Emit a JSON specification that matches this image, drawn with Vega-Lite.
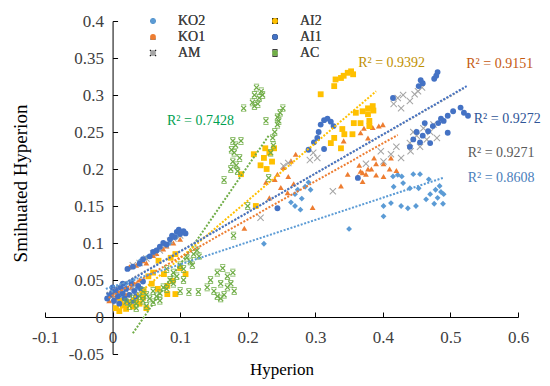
{
"$schema":"https://vega.github.io/schema/vega-lite/v6.json",
"width":473,"height":333,
"autosize":{"type":"none"},
"padding":{"left":45,"top":21,"right":32,"bottom":32},
"config":{"view":{"stroke":null},"font":"Liberation Serif",
 "axis":{"labelOverlap":false,"labelBound":false,"labelFlush":false,"grid":false,"domainColor":"#000","tickColor":"#000","tickSize":-5,"labelFontSize":17,"labelFont":"Liberation Serif","labelColor":"#404040","titleFont":"Liberation Serif","titleFontWeight":"normal","titleColor":"#000"},
 "axisX":{"labelPadding":17},
 "axisY":{"labelPadding":14},
 "legend":{"orient":"none","legendX":101,"legendY":-7,"columns":2,"columnPadding":62,"rowPadding":2,"labelFont":"Liberation Serif","labelFontSize":14,"labelColor":"#404040","symbolSize":34,"labelOffset":18,"padding":0,"symbolStrokeWidth":0}},
"datasets":{
"pts":[
{"s":"KO2","x":-0.005,"y":0.03},{"s":"KO2","x":0.0,"y":0.036},{"s":"KO2","x":0.008,"y":0.04},{"s":"KO2","x":0.015,"y":0.028},{"s":"KO2","x":0.02,"y":0.045},{"s":"KO2","x":0.03,"y":0.05},{"s":"KO2","x":0.035,"y":0.038},
{"s":"KO2","x":0.025,"y":0.066},{"s":"KO2","x":0.04,"y":0.075},{"s":"KO2","x":0.05,"y":0.08},{"s":"KO2","x":0.06,"y":0.086},{"s":"KO2","x":0.07,"y":0.092},{"s":"KO2","x":0.085,"y":0.1},{"s":"KO2","x":0.095,"y":0.108},
{"s":"KO2","x":0.224,"y":0.099},{"s":"KO2","x":0.264,"y":0.155},{"s":"KO2","x":0.27,"y":0.166},{"s":"KO2","x":0.274,"y":0.172},{"s":"KO2","x":0.28,"y":0.16},{"s":"KO2","x":0.285,"y":0.176},{"s":"KO2","x":0.29,"y":0.182},{"s":"KO2","x":0.293,"y":0.172},{"s":"KO2","x":0.27,"y":0.15},{"s":"KO2","x":0.278,"y":0.145},{"s":"KO2","x":0.35,"y":0.119},
{"s":"KO2","x":0.401,"y":0.136},{"s":"KO2","x":0.401,"y":0.15},{"s":"KO2","x":0.412,"y":0.154},{"s":"KO2","x":0.416,"y":0.176},{"s":"KO2","x":0.427,"y":0.15},{"s":"KO2","x":0.43,"y":0.181},{"s":"KO2","x":0.437,"y":0.147},{"s":"KO2","x":0.44,"y":0.174},{"s":"KO2","x":0.449,"y":0.15},{"s":"KO2","x":0.453,"y":0.174},{"s":"KO2","x":0.464,"y":0.159},{"s":"KO2","x":0.468,"y":0.186},{"s":"KO2","x":0.476,"y":0.153},{"s":"KO2","x":0.481,"y":0.161},{"s":"KO2","x":0.486,"y":0.169},{"s":"KO2","x":0.489,"y":0.153},{"s":"KO2","x":0.49,"y":0.166},{"s":"KO2","x":0.415,"y":0.19},{"s":"KO2","x":0.422,"y":0.192},{"s":"KO2","x":0.428,"y":0.19},{"s":"KO2","x":0.445,"y":0.193},{"s":"KO2","x":0.455,"y":0.193},{"s":"KO2","x":0.478,"y":0.172},{"s":"KO2","x":0.484,"y":0.177},{"s":"KO2","x":0.47,"y":0.166},
{"s":"KO1","x":-0.005,"y":0.022},{"s":"KO1","x":0.0,"y":0.03},{"s":"KO1","x":0.005,"y":0.026},{"s":"KO1","x":0.012,"y":0.035},{"s":"KO1","x":0.02,"y":0.03},{"s":"KO1","x":0.028,"y":0.04},{"s":"KO1","x":0.035,"y":0.045},{"s":"KO1","x":0.04,"y":0.05},
{"s":"KO1","x":0.025,"y":0.068},{"s":"KO1","x":0.035,"y":0.07},{"s":"KO1","x":0.045,"y":0.076},{"s":"KO1","x":0.05,"y":0.073},{"s":"KO1","x":0.06,"y":0.083},{"s":"KO1","x":0.065,"y":0.086},{"s":"KO1","x":0.075,"y":0.092},{"s":"KO1","x":0.08,"y":0.096},{"s":"KO1","x":0.09,"y":0.1},{"s":"KO1","x":0.1,"y":0.105},
{"s":"KO1","x":0.195,"y":0.12},{"s":"KO1","x":0.227,"y":0.182},{"s":"KO1","x":0.244,"y":0.193},{"s":"KO1","x":0.253,"y":0.202},{"s":"KO1","x":0.264,"y":0.211},{"s":"KO1","x":0.271,"y":0.22},{"s":"KO1","x":0.249,"y":0.175},{"s":"KO1","x":0.259,"y":0.168},{"s":"KO1","x":0.268,"y":0.18},{"s":"KO1","x":0.232,"y":0.161},{"s":"KO1","x":0.24,"y":0.186},{"s":"KO1","x":0.26,"y":0.19},{"s":"KO1","x":0.296,"y":0.148},{"s":"KO1","x":0.338,"y":0.177},{"s":"KO1","x":0.348,"y":0.193},{"s":"KO1","x":0.365,"y":0.205},{"s":"KO1","x":0.37,"y":0.195},{"s":"KO1","x":0.378,"y":0.2},{"s":"KO1","x":0.39,"y":0.192},
{"s":"KO1","x":0.342,"y":0.238},{"s":"KO1","x":0.367,"y":0.249},{"s":"KO1","x":0.372,"y":0.255},{"s":"KO1","x":0.378,"y":0.242},{"s":"KO1","x":0.385,"y":0.256},{"s":"KO1","x":0.394,"y":0.258},{"s":"KO1","x":0.4,"y":0.26},
{"s":"KO1","x":0.363,"y":0.19},{"s":"KO1","x":0.367,"y":0.197},{"s":"KO1","x":0.37,"y":0.183},{"s":"KO1","x":0.375,"y":0.193},{"s":"KO1","x":0.383,"y":0.2},{"s":"KO1","x":0.387,"y":0.215},{"s":"KO1","x":0.39,"y":0.207},{"s":"KO1","x":0.401,"y":0.207},{"s":"KO1","x":0.401,"y":0.19},{"s":"KO1","x":0.41,"y":0.2},{"s":"KO1","x":0.412,"y":0.215},{"s":"KO1","x":0.42,"y":0.198},
{"s":"AM","x":0.0,"y":0.028},{"s":"AM","x":0.005,"y":0.02},{"s":"AM","x":0.01,"y":0.033},{"s":"AM","x":0.02,"y":0.036},{"s":"AM","x":0.03,"y":0.04},{"s":"AM","x":0.04,"y":0.03},
{"s":"AM","x":0.03,"y":0.07},{"s":"AM","x":0.04,"y":0.073},{"s":"AM","x":0.05,"y":0.079},{"s":"AM","x":0.06,"y":0.086},{"s":"AM","x":0.07,"y":0.09},{"s":"AM","x":0.078,"y":0.097},{"s":"AM","x":0.085,"y":0.103},{"s":"AM","x":0.09,"y":0.106},{"s":"AM","x":0.1,"y":0.11},
{"s":"AM","x":0.219,"y":0.134},{"s":"AM","x":0.253,"y":0.204},{"s":"AM","x":0.26,"y":0.208},{"s":"AM","x":0.292,"y":0.212},{"s":"AM","x":0.297,"y":0.222},{"s":"AM","x":0.303,"y":0.215},{"s":"AM","x":0.326,"y":0.17},{"s":"AM","x":0.375,"y":0.207},
{"s":"AM","x":0.397,"y":0.224},{"s":"AM","x":0.401,"y":0.21},{"s":"AM","x":0.412,"y":0.22},{"s":"AM","x":0.427,"y":0.215},{"s":"AM","x":0.441,"y":0.224},{"s":"AM","x":0.42,"y":0.23},
{"s":"AM","x":0.416,"y":0.288},{"s":"AM","x":0.422,"y":0.296},{"s":"AM","x":0.43,"y":0.3},{"s":"AM","x":0.44,"y":0.292},{"s":"AM","x":0.447,"y":0.301},{"s":"AM","x":0.452,"y":0.305},{"s":"AM","x":0.458,"y":0.31},{"s":"AM","x":0.427,"y":0.282},
{"s":"AM","x":0.44,"y":0.235},{"s":"AM","x":0.45,"y":0.245},{"s":"AM","x":0.455,"y":0.23},{"s":"AM","x":0.46,"y":0.255},{"s":"AM","x":0.465,"y":0.24},{"s":"AM","x":0.47,"y":0.25},{"s":"AM","x":0.475,"y":0.26},{"s":"AM","x":0.48,"y":0.242},{"s":"AM","x":0.445,"y":0.25},
{"s":"AI2","x":0.005,"y":0.012},{"s":"AI2","x":0.01,"y":0.008},{"s":"AI2","x":0.015,"y":0.016},{"s":"AI2","x":0.02,"y":0.011},{"s":"AI2","x":0.025,"y":0.02},{"s":"AI2","x":0.03,"y":0.014},{"s":"AI2","x":0.035,"y":0.022},{"s":"AI2","x":0.04,"y":0.018},{"s":"AI2","x":0.045,"y":0.026},{"s":"AI2","x":0.012,"y":0.022},{"s":"AI2","x":0.05,"y":0.012},
{"s":"AI2","x":0.046,"y":0.035},{"s":"AI2","x":0.053,"y":0.055},{"s":"AI2","x":0.058,"y":0.045},{"s":"AI2","x":0.067,"y":0.038},{"s":"AI2","x":0.068,"y":0.076},{"s":"AI2","x":0.076,"y":0.058},{"s":"AI2","x":0.081,"y":0.042},{"s":"AI2","x":0.081,"y":0.031},{"s":"AI2","x":0.086,"y":0.08},{"s":"AI2","x":0.089,"y":0.049},{"s":"AI2","x":0.093,"y":0.085},{"s":"AI2","x":0.093,"y":0.031},{"s":"AI2","x":0.1,"y":0.066},{"s":"AI2","x":0.108,"y":0.058},{"s":"AI2","x":0.06,"y":0.06},
{"s":"AI2","x":0.19,"y":0.193},{"s":"AI2","x":0.209,"y":0.22},{"s":"AI2","x":0.212,"y":0.15},{"s":"AI2","x":0.219,"y":0.205},{"s":"AI2","x":0.224,"y":0.215},{"s":"AI2","x":0.228,"y":0.2},{"s":"AI2","x":0.232,"y":0.222},{"s":"AI2","x":0.236,"y":0.21},{"s":"AI2","x":0.239,"y":0.228},{"s":"AI2","x":0.226,"y":0.228},
{"s":"AI2","x":0.308,"y":0.301},{"s":"AI2","x":0.328,"y":0.312},{"s":"AI2","x":0.33,"y":0.321},{"s":"AI2","x":0.338,"y":0.323},{"s":"AI2","x":0.342,"y":0.326},{"s":"AI2","x":0.348,"y":0.33},{"s":"AI2","x":0.353,"y":0.332},{"s":"AI2","x":0.356,"y":0.328},
{"s":"AI2","x":0.36,"y":0.276},{"s":"AI2","x":0.37,"y":0.278},{"s":"AI2","x":0.378,"y":0.282},{"s":"AI2","x":0.385,"y":0.285},{"s":"AI2","x":0.386,"y":0.279},{"s":"AI2","x":0.378,"y":0.274},{"s":"AI2","x":0.38,"y":0.265},{"s":"AI2","x":0.367,"y":0.262},{"s":"AI2","x":0.357,"y":0.262},{"s":"AI2","x":0.38,"y":0.258},{"s":"AI2","x":0.34,"y":0.254},{"s":"AI2","x":0.328,"y":0.242},{"s":"AI2","x":0.343,"y":0.247},{"s":"AI2","x":0.338,"y":0.228},{"s":"AI2","x":0.323,"y":0.235},{"s":"AI2","x":0.355,"y":0.247},
{"s":"AI1","x":-0.008,"y":0.025},{"s":"AI1","x":-0.003,"y":0.03},{"s":"AI1","x":0.002,"y":0.022},{"s":"AI1","x":0.005,"y":0.035},{"s":"AI1","x":0.008,"y":0.028},{"s":"AI1","x":0.012,"y":0.04},{"s":"AI1","x":0.015,"y":0.032},{"s":"AI1","x":0.018,"y":0.025},{"s":"AI1","x":0.02,"y":0.038},{"s":"AI1","x":0.025,"y":0.03},{"s":"AI1","x":0.028,"y":0.045},{"s":"AI1","x":0.032,"y":0.035},{"s":"AI1","x":0.035,"y":0.028},{"s":"AI1","x":0.038,"y":0.042},{"s":"AI1","x":0.042,"y":0.038},{"s":"AI1","x":0.045,"y":0.048},{"s":"AI1","x":0.01,"y":0.018},{"s":"AI1","x":0.022,"y":0.02},{"s":"AI1","x":0.03,"y":0.022},{"s":"AI1","x":0.0,"y":0.04},{"s":"AI1","x":0.015,"y":0.045},
{"s":"AI1","x":0.022,"y":0.065},{"s":"AI1","x":0.03,"y":0.068},{"s":"AI1","x":0.04,"y":0.072},{"s":"AI1","x":0.045,"y":0.078},{"s":"AI1","x":0.055,"y":0.082},{"s":"AI1","x":0.06,"y":0.088},{"s":"AI1","x":0.065,"y":0.09},{"s":"AI1","x":0.07,"y":0.095},{"s":"AI1","x":0.075,"y":0.1},{"s":"AI1","x":0.08,"y":0.098},{"s":"AI1","x":0.085,"y":0.105},{"s":"AI1","x":0.088,"y":0.11},{"s":"AI1","x":0.092,"y":0.108},{"s":"AI1","x":0.095,"y":0.115},{"s":"AI1","x":0.1,"y":0.112},{"s":"AI1","x":0.105,"y":0.116},{"s":"AI1","x":0.108,"y":0.113},{"s":"AI1","x":0.098,"y":0.118},
{"s":"AI1","x":0.244,"y":0.147},{"s":"AI1","x":0.29,"y":0.226},{"s":"AI1","x":0.298,"y":0.236},{"s":"AI1","x":0.303,"y":0.242},{"s":"AI1","x":0.308,"y":0.26},{"s":"AI1","x":0.313,"y":0.266},{"s":"AI1","x":0.318,"y":0.268},{"s":"AI1","x":0.323,"y":0.264},{"s":"AI1","x":0.327,"y":0.258},{"s":"AI1","x":0.313,"y":0.227},{"s":"AI1","x":0.305,"y":0.25},{"s":"AI1","x":0.363,"y":0.188},
{"s":"AI1","x":0.415,"y":0.296},{"s":"AI1","x":0.453,"y":0.312},{"s":"AI1","x":0.459,"y":0.316},{"s":"AI1","x":0.456,"y":0.32},{"s":"AI1","x":0.476,"y":0.322},{"s":"AI1","x":0.479,"y":0.326},{"s":"AI1","x":0.481,"y":0.331},
{"s":"AI1","x":0.44,"y":0.23},{"s":"AI1","x":0.445,"y":0.24},{"s":"AI1","x":0.45,"y":0.25},{"s":"AI1","x":0.455,"y":0.236},{"s":"AI1","x":0.459,"y":0.245},{"s":"AI1","x":0.467,"y":0.251},{"s":"AI1","x":0.47,"y":0.235},{"s":"AI1","x":0.474,"y":0.258},{"s":"AI1","x":0.49,"y":0.265},{"s":"AI1","x":0.496,"y":0.272},{"s":"AI1","x":0.496,"y":0.249},{"s":"AI1","x":0.504,"y":0.278},{"s":"AI1","x":0.515,"y":0.283},{"s":"AI1","x":0.52,"y":0.276},{"s":"AI1","x":0.526,"y":0.272},{"s":"AI1","x":0.482,"y":0.262},{"s":"AI1","x":0.486,"y":0.268},{"s":"AI1","x":0.462,"y":0.262},
{"s":"AC","x":0.02,"y":0.02},{"s":"AC","x":0.025,"y":0.015},{"s":"AC","x":0.03,"y":0.025},{"s":"AC","x":0.035,"y":0.018},{"s":"AC","x":0.04,"y":0.028},{"s":"AC","x":0.045,"y":0.022},{"s":"AC","x":0.05,"y":0.03},{"s":"AC","x":0.055,"y":0.025},{"s":"AC","x":0.06,"y":0.035},{"s":"AC","x":0.065,"y":0.028},{"s":"AC","x":0.07,"y":0.032},{"s":"AC","x":0.075,"y":0.04},{"s":"AC","x":0.08,"y":0.038},{"s":"AC","x":0.035,"y":0.012},{"s":"AC","x":0.05,"y":0.015},{"s":"AC","x":0.06,"y":0.02},{"s":"AC","x":0.07,"y":0.022},{"s":"AC","x":0.045,"y":0.035},
{"s":"AC","x":0.085,"y":0.05},{"s":"AC","x":0.09,"y":0.06},{"s":"AC","x":0.095,"y":0.055},{"s":"AC","x":0.1,"y":0.07},{"s":"AC","x":0.105,"y":0.065},{"s":"AC","x":0.11,"y":0.08},{"s":"AC","x":0.115,"y":0.075},{"s":"AC","x":0.12,"y":0.085},{"s":"AC","x":0.125,"y":0.09},{"s":"AC","x":0.128,"y":0.082},{"s":"AC","x":0.09,"y":0.045},{"s":"AC","x":0.105,"y":0.05},{"s":"AC","x":0.118,"y":0.07},{"s":"AC","x":0.08,"y":0.065},
{"s":"AC","x":0.1,"y":0.035},{"s":"AC","x":0.113,"y":0.034},{"s":"AC","x":0.127,"y":0.034},
{"s":"AC","x":0.14,"y":0.04},{"s":"AC","x":0.145,"y":0.05},{"s":"AC","x":0.15,"y":0.035},{"s":"AC","x":0.155,"y":0.06},{"s":"AC","x":0.16,"y":0.045},{"s":"AC","x":0.163,"y":0.066},{"s":"AC","x":0.165,"y":0.03},{"s":"AC","x":0.17,"y":0.055},{"s":"AC","x":0.175,"y":0.045},{"s":"AC","x":0.18,"y":0.035},{"s":"AC","x":0.16,"y":0.025},{"s":"AC","x":0.155,"y":0.028},{"s":"AC","x":0.17,"y":0.04},{"s":"AC","x":0.178,"y":0.06},
{"s":"AC","x":0.179,"y":0.11},{"s":"AC","x":0.2,"y":0.15},{"s":"AC","x":0.165,"y":0.185},{"s":"AC","x":0.231,"y":0.188},
{"s":"AC","x":0.175,"y":0.2},{"s":"AC","x":0.178,"y":0.21},{"s":"AC","x":0.18,"y":0.222},{"s":"AC","x":0.182,"y":0.232},{"s":"AC","x":0.185,"y":0.197},{"s":"AC","x":0.188,"y":0.215},{"s":"AC","x":0.19,"y":0.238},{"s":"AC","x":0.176,"y":0.226},{"s":"AC","x":0.183,"y":0.205},{"s":"AC","x":0.178,"y":0.238},
{"s":"AC","x":0.194,"y":0.282},
{"s":"AC","x":0.207,"y":0.29},{"s":"AC","x":0.21,"y":0.3},{"s":"AC","x":0.213,"y":0.31},{"s":"AC","x":0.217,"y":0.296},{"s":"AC","x":0.22,"y":0.305},{"s":"AC","x":0.222,"y":0.3},{"s":"AC","x":0.21,"y":0.285},{"s":"AC","x":0.215,"y":0.288},
{"s":"AC","x":0.227,"y":0.265},{"s":"AC","x":0.237,"y":0.242},{"s":"AC","x":0.24,"y":0.25},{"s":"AC","x":0.244,"y":0.26},{"s":"AC","x":0.244,"y":0.27},{"s":"AC","x":0.248,"y":0.276},{"s":"AC","x":0.252,"y":0.282},{"s":"AC","x":0.238,"y":0.232},{"s":"AC","x":0.234,"y":0.222},{"s":"AC","x":0.246,"y":0.265}
],
"trend":[
{"s":"AC","x":0.030,"y":-0.022},{"s":"AC","x":0.231,"y":0.245},
{"s":"AI2","x":0.012,"y":0.011},{"s":"AI2","x":0.390,"y":0.305},
{"s":"KO1","x":-0.006,"y":0.026},{"s":"KO1","x":0.422,"y":0.246},
{"s":"AM","x":-0.009,"y":0.032},{"s":"AM","x":0.52,"y":0.309},
{"s":"AI1","x":-0.009,"y":0.031},{"s":"AI1","x":0.524,"y":0.312},
{"s":"KO2","x":-0.010,"y":0.038},{"s":"KO2","x":0.489,"y":0.188}
],
"r2":[
{"s":"AC","x":0.130,"y":0.265,"t":"R² = 0.7428"},
{"s":"AI2","x":0.413,"y":0.343,"t":"R² = 0.9392"},
{"s":"KO1","x":0.573,"y":0.342,"t":"R² = 0.9151"},
{"s":"AI1","x":0.584,"y":0.268,"t":"R² = 0.9272"},
{"s":"AM","x":0.575,"y":0.222,"t":"R² = 0.9271"},
{"s":"KO2","x":0.575,"y":0.188,"t":"R² = 0.8608"}
]
},
"layer":[
{"data":{"name":"pts"},
 "mark":{"type":"point","filled":true,"opacity":1,"size":34},
 "encoding":{
  "x":{"field":"x","type":"quantitative","scale":{"domain":[-0.1,0.6],"nice":false,"zero":false},
   "axis":{"values":[-0.1,0,0.1,0.2,0.3,0.4,0.5,0.6],"tickCount":30,"labelExpr":"'' + datum.value","labelOverlap":false,"offset":-37,"title":"Hyperion","titleFontSize":17,"titleY":52,"titleBaseline":"middle"}},
  "y":{"field":"y","type":"quantitative","scale":{"domain":[-0.05,0.4],"nice":false,"zero":false},
   "axis":{"values":[-0.05,0,0.05,0.1,0.15,0.2,0.25,0.3,0.35,0.4],"tickCount":30,"labelExpr":"'' + datum.value","labelOverlap":false,"offset":-67.57,"title":"Smihuated  Hyperion","titleFontSize":19,"titleX":-92,"titleY":162,"titleBaseline":"middle"}},
  "color":{"field":"s","type":"nominal","scale":{"domain":["KO2","KO1","AM","AI2","AI1","AC"],"range":["#5B9BD5","#ED7D31","#A5A5A5","#FFC000","#4472C4","#70AD47"]},"legend":{"title":null}},
  "shape":{"field":"s","type":"nominal","scale":{"domain":["KO2","KO1","AM","AI2","AI1","AC"],"range":["diamond","triangle-up","M-1.2,-0.95L-0.95,-1.2L0,-0.25L0.95,-1.2L1.2,-0.95L0.25,0L1.2,0.95L0.95,1.2L0,0.25L-0.95,1.2L-1.2,0.95L-0.25,0Z","square","circle","M-1,-0.7L-0.7,-1L0,-0.3L0.7,-1L1,-0.7L0.3,0L1,0.7L0.7,1L0,0.3L-0.7,1L-1,0.7L-0.3,0Z M-0.9,-1.3H0.9V-1.05H-0.9Z M-0.9,1.05H0.9V1.3H-0.9Z"]},"legend":{"title":null}}
 }},
{"data":{"name":"trend"},
 "mark":{"type":"line","strokeWidth":2,"strokeDash":[2,1.6]},
 "encoding":{
  "x":{"field":"x","type":"quantitative"},
  "y":{"field":"y","type":"quantitative"},
  "detail":{"field":"s","type":"nominal"},
  "color":{"field":"s","type":"nominal","scale":{"domain":["KO2","KO1","AM","AI2","AI1","AC"],"range":["#5B9BD5","#ED7D31","#A5A5A5","#FFC000","#4472C4","#70AD47"]},"legend":null}
 }},
{"data":{"name":"r2"},
 "mark":{"type":"text","font":"Liberation Serif","fontSize":14,"align":"center","baseline":"middle"},
 "encoding":{
  "x":{"field":"x","type":"quantitative"},
  "y":{"field":"y","type":"quantitative"},
  "text":{"field":"t"},
  "color":{"field":"s","type":"nominal","scale":{"domain":["KO2","KO1","AM","AI2","AI1","AC"],"range":["#4A7EBB","#C55A11","#595959","#BF9000","#2F5597","#00A050"]},"legend":null}
 }}
],
"resolve":{"scale":{"color":"independent"}}
}
